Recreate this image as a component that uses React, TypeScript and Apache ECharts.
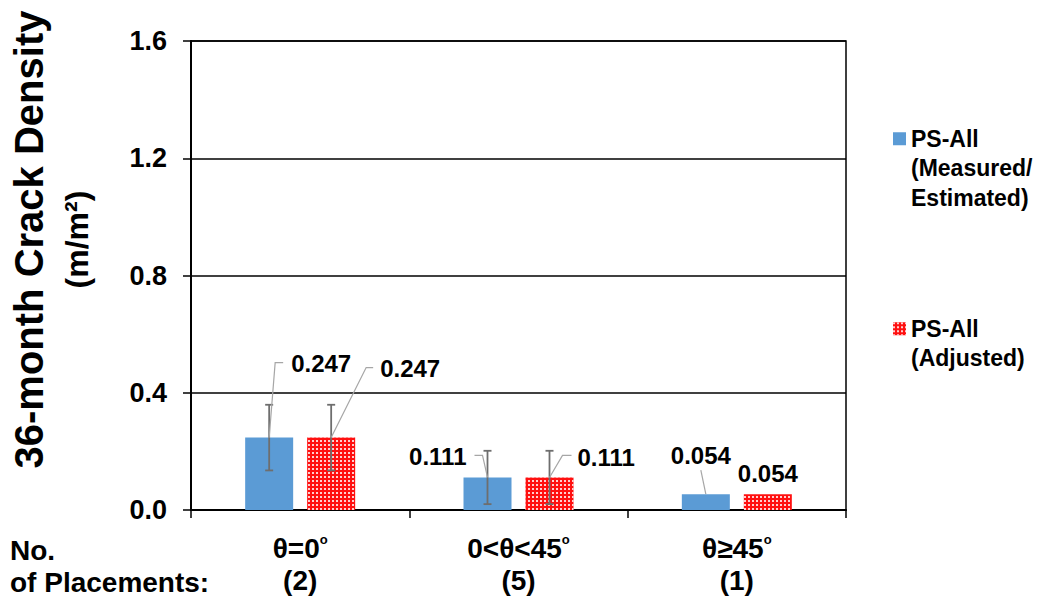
import React, { useEffect, useRef } from "react";
import * as echarts from "echarts";

const categories = ["θ=0", "0<θ<45", "θ≥45"];
const placements = [2, 5, 1];
const measured = [0.247, 0.111, 0.054];
const adjusted = [0.247, 0.111, 0.054];
const measuredErr = [0.112, 0.091, 0];
const adjustedErr = [0.112, 0.091, 0];
const yMin = 0;
const yMax = 1.6;
const yInterval = 0.4;

const seriesNames = ["PS-All (Measured/Estimated)", "PS-All (Adjusted)"];
const legendText: Record<string, string> = {
  "PS-All (Measured/Estimated)": "\n\nPS-All\n(Measured/\nEstimated)",
  "PS-All (Adjusted)": "\nPS-All\n(Adjusted)",
};

const FONT = '"Liberation Sans", Arial, sans-serif';
const BAR_WIDTH = 48;
const BAR_GAP_PX = 14;
const BAR_OFFSET = (BAR_WIDTH + BAR_GAP_PX) / 2;

type LabelLayout = { line: number[][]; text: number[]; align: string };
const measuredLabelLayout: LabelLayout[] = [
  { line: [[6, -75], [14, -75]], text: [22, -74], align: "left" },
  { line: [[-5, -22], [-13, -22]], text: [-21, -21], align: "right" },
  { line: [[-5, -24]], text: [-5, -39], align: "center" },
];
const adjustedLabelLayout: LabelLayout[] = [
  { line: [[35, -70], [42, -70]], text: [49, -69], align: "left" },
  { line: [[13, -22], [22, -22]], text: [28, -20], align: "left" },
  { line: [], text: [0, -21], align: "center" },
];

function errorSeries(values: number[], errs: number[], side: number) {
  return {
    type: "custom",
    z: 5,
    silent: true,
    data: values.map((v, i) => [i, v, errs[i]]),
    renderItem: (params: any, api: any) => {
      const e = api.value(2);
      if (!e) return { type: "group", children: [] };
      const x = api.value(0);
      const v = api.value(1);
      const top = api.coord([x, v + e]);
      const bot = api.coord([x, v - e]);
      const cx = top[0] + side * BAR_OFFSET;
      const st = { stroke: "#6e6e6e", lineWidth: 1.8 };
      return {
        type: "group",
        children: [
          { type: "line", shape: { x1: cx, y1: top[1], x2: cx, y2: bot[1] }, style: st },
          { type: "line", shape: { x1: cx - 4, y1: top[1], x2: cx + 4, y2: top[1] }, style: st },
          { type: "line", shape: { x1: cx - 4, y1: bot[1], x2: cx + 4, y2: bot[1] }, style: st },
        ],
      };
    },
  };
}

function labelSeries(values: number[], layout: LabelLayout[], side: number) {
  return {
    type: "custom",
    z: 6,
    silent: true,
    data: values.map((v, i) => [i, v]),
    renderItem: (params: any, api: any) => {
      const idx = params.dataIndex;
      const v = api.value(1);
      const p = api.coord([api.value(0), v]);
      const x0 = p[0] + side * BAR_OFFSET;
      const y0 = p[1];
      const L = layout[idx];
      const children: any[] = [];
      if (L.line.length) {
        children.push({
          type: "polyline",
          shape: { points: [[x0, y0], ...L.line.map((d) => [x0 + d[0], y0 + d[1]])] },
          style: { stroke: "#a6a6a6", lineWidth: 1.2, fill: "none" },
        });
      }
      children.push({
        type: "text",
        style: {
          text: v.toFixed(3),
          x: x0 + L.text[0],
          y: y0 + L.text[1],
          align: L.align,
          verticalAlign: "middle",
          font: `bold 24px ${FONT}`,
          fill: "#000",
        },
      });
      return { type: "group", children };
    },
  };
}

export default function App() {
  const ref = useRef<HTMLDivElement>(null);
  useEffect(() => {
    if (!ref.current) return;
    const chart = echarts.init(ref.current, null, { renderer: "svg" });
    const option: any = {
      animation: false,
      textStyle: { fontFamily: FONT },
      grid: { left: 191, right: 201, top: 41, bottom: 91, show: true, borderColor: "#000", borderWidth: 1.5 },
      legend: {
        orient: "vertical",
        left: 893,
        top: 65,
        padding: 0,
        itemGap: 72,
        itemWidth: 13,
        itemHeight: 13,
        icon: "rect",
        data: seriesNames,
        formatter: (name: string) => legendText[name],
        textStyle: { fontSize: 23, fontWeight: "bold", lineHeight: 29.5, color: "#000", fontFamily: FONT },
      },
      xAxis: {
        type: "category",
        data: categories,
        axisLine: { lineStyle: { color: "#000", width: 2 } },
        axisTick: { show: true, length: 8, lineStyle: { color: "#000", width: 1.5 } },
        axisLabel: {
          margin: 22,
          interval: 0,
          formatter: (val: string, idx: number) => `{c|${val}}{sup|o}\n{n|(${placements[idx]})}`,
          rich: {
            c: { fontSize: 28, fontWeight: "bold", lineHeight: 32, color: "#000", fontFamily: FONT },
            sup: { fontSize: 13, fontWeight: "bold", lineHeight: 32, color: "#000", padding: [0, 0, 18, 0], fontFamily: FONT },
            n: { fontSize: 28, fontWeight: "bold", lineHeight: 32, color: "#000", fontFamily: FONT },
          },
        },
      },
      yAxis: {
        type: "value",
        min: yMin,
        max: yMax,
        interval: yInterval,
        name: "{t|36-month Crack Density}\n{u|(m/m²)}",
        nameLocation: "middle",
        nameRotate: 90,
        nameGap: 90,
        nameTextStyle: {
          padding: [0, 0, 0, 72],
          rich: {
            t: { fontSize: 40, fontWeight: "bold", lineHeight: 48, color: "#000", fontFamily: FONT },
            u: { fontSize: 32, fontWeight: "bold", lineHeight: 48, color: "#000", fontFamily: FONT },
          },
        },
        axisLine: { show: true, lineStyle: { color: "#000", width: 2 } },
        axisTick: { show: true, length: 8, lineStyle: { color: "#000", width: 1.5 } },
        splitLine: { show: true, lineStyle: { color: "#000", width: 1.5 } },
        axisLabel: {
          margin: 24,
          fontSize: 27,
          fontWeight: "bold",
          color: "#000",
          fontFamily: FONT,
          formatter: (v: number) => v.toFixed(1),
        },
      },
      graphic: [
        {
          type: "text",
          left: 10,
          top: 534,
          style: {
            text: "No.\nof Placements:",
            font: `bold 28px ${FONT}`,
            lineHeight: 32,
            fill: "#000",
          },
        },
      ],
      series: [
        {
          name: seriesNames[0],
          type: "bar",
          data: measured,
          barWidth: BAR_WIDTH,
          barGap: `${(BAR_GAP_PX / BAR_WIDTH) * 100}%`,
          itemStyle: { color: "#5b9bd5" },
        },
        {
          name: seriesNames[1],
          type: "bar",
          data: adjusted,
          barWidth: BAR_WIDTH,
          barGap: `${(BAR_GAP_PX / BAR_WIDTH) * 100}%`,
          itemStyle: {
            color: "#ff1010",
            decal: {
              symbol: "rect",
              symbolSize: 1,
              color: "rgba(255,255,255,0.8)",
              dashArrayX: [2, 2],
              dashArrayY: [2, 2],
              rotation: 0,
            },
          },
        },
        errorSeries(measured, measuredErr, -1),
        errorSeries(adjusted, adjustedErr, 1),
        labelSeries(measured, measuredLabelLayout, -1),
        labelSeries(adjusted, adjustedLabelLayout, 1),
      ],
    };
    chart.setOption(option);
    return () => chart.dispose();
  }, []);
  return <div ref={ref} style={{ position: "fixed", left: 0, top: 0, width: 1047, height: 601, background: "#fff" }} />;
}
